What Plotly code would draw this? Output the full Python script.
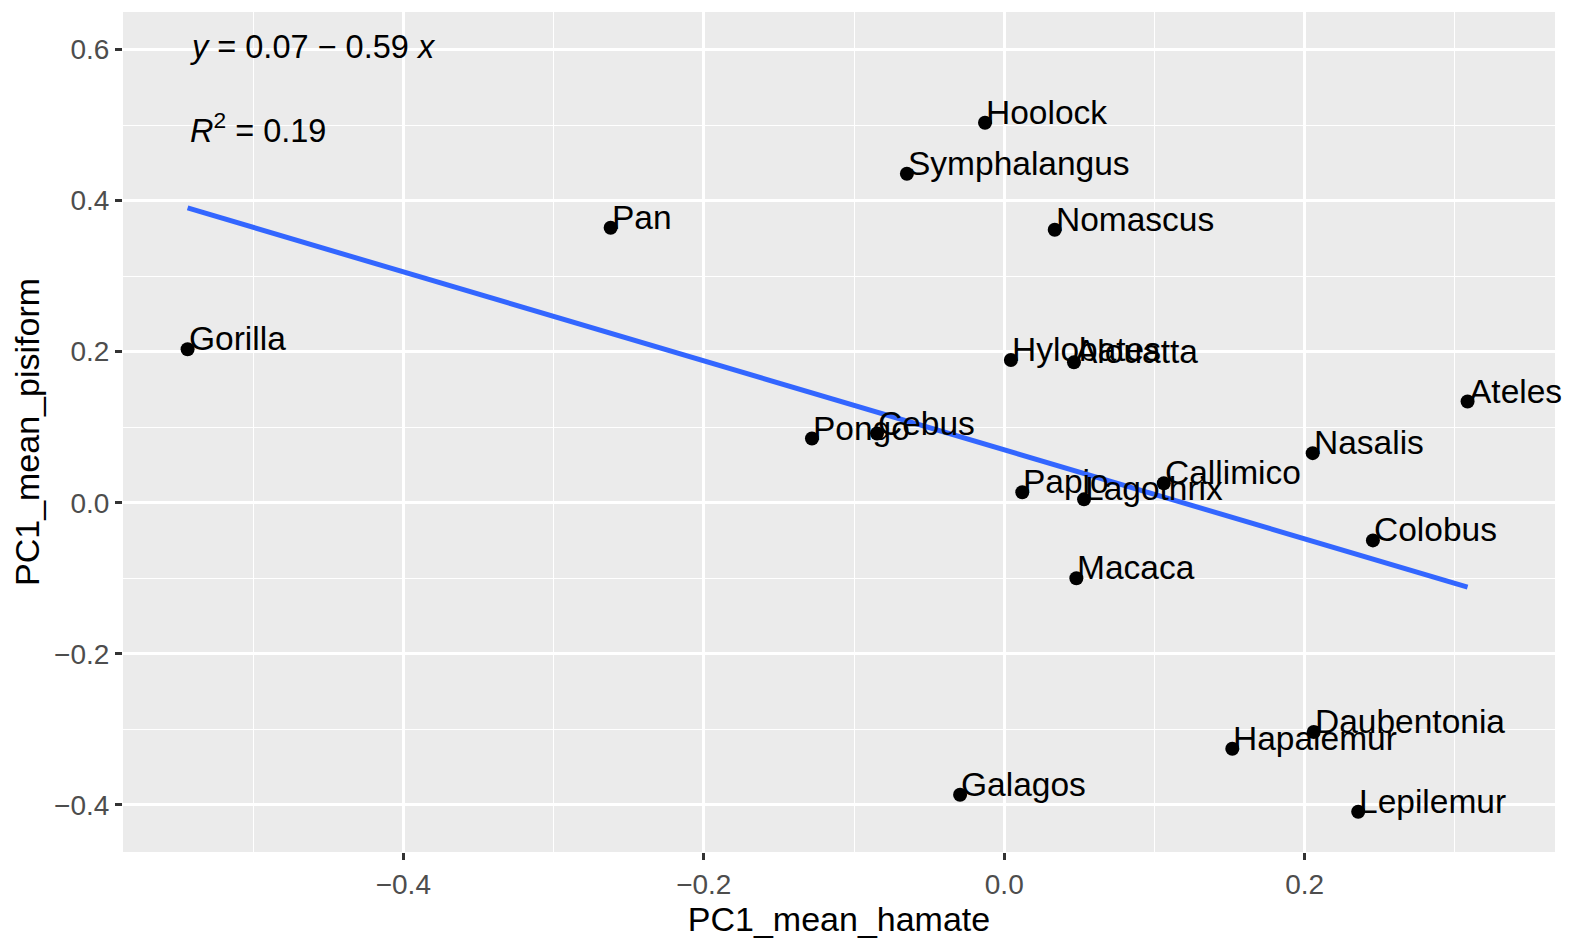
import numpy as np
import plotly.graph_objects as go

# ---- data ----
genus = ["Gorilla", "Pan", "Hoolock", "Symphalangus", "Nomascus", "Hylobates",
         "Alouatta", "Ateles", "Nasalis", "Pongo", "Cebus", "Papio", "Lagothrix",
         "Callimico", "Colobus", "Macaca", "Daubentonia", "Hapalemur", "Galagos",
         "Lepilemur"]
pc1_hamate = [-0.5436, -0.262, -0.0128, -0.0648, 0.0336, 0.0044,
              0.0464, 0.3084, 0.2053, -0.128, -0.0847, 0.012, 0.0531,
              0.1062, 0.2454, 0.048, 0.206, 0.1518, -0.0294,
              0.2356]
pc1_pisiform = [0.2031, 0.364, 0.503, 0.4356, 0.3613, 0.1889,
                0.1858, 0.1339, 0.0656, 0.0849, 0.0916, 0.0138, 0.0044,
                0.0258, -0.0499, -0.1, -0.3036, -0.3258, -0.3867,
                -0.4093]

x_ticks = [-0.4, -0.2, 0.0, 0.2]
x_ticktext = ["\u22120.4", "\u22120.2", "0.0", "0.2"]
x_minor = [-0.5, -0.3, -0.1, 0.1, 0.3]
y_ticks = [-0.4, -0.2, 0.0, 0.2, 0.4, 0.6]
y_ticktext = ["\u22120.4", "\u22120.2", "0.0", "0.2", "0.4", "0.6"]
y_minor = [-0.3, -0.1, 0.1, 0.3, 0.5]

eq_text = "<i>y</i> = 0.07 \u2212 0.59 <i>x</i>"
r2_text = "<i>R</i><sup>2</sup> = 0.19"

# ---- linear fit ----
xs = np.array(pc1_hamate)
ys = np.array(pc1_pisiform)
slope, intercept = np.polyfit(xs, ys, 1)
line_x = np.array([xs.min(), xs.max()])
line_y = intercept + slope * line_x

FONT = "Liberation Sans, Arial, Helvetica, sans-serif"
LABEL_SIZE = 33.5

fig = go.Figure()
fig.add_trace(go.Scatter(x=line_x, y=line_y, mode="lines",
                         line=dict(color="#3366FF", width=5),
                         hoverinfo="skip", showlegend=False))
fig.add_trace(go.Scatter(x=pc1_hamate, y=pc1_pisiform, mode="markers",
                         marker=dict(color="black", size=14),
                         text=genus, showlegend=False))

annotations = []
for name, xv, yv in zip(genus, pc1_hamate, pc1_pisiform):
    annotations.append(dict(x=xv, y=yv, xref="x", yref="y", text=name,
                            showarrow=False, xanchor="left", yanchor="bottom",
                            xshift=-1, yshift=-10,
                            font=dict(family=FONT, size=LABEL_SIZE, color="black")))
annotations.append(dict(x=0.0455, y=0.9437, xref="paper", yref="paper",
                        text=eq_text, showarrow=False, xanchor="left",
                        yanchor="bottom", yshift=-8,
                        font=dict(family=FONT, size=32.5, color="black")))
annotations.append(dict(x=0.0455, y=0.8444, xref="paper", yref="paper",
                        text=r2_text, showarrow=False, xanchor="left",
                        yanchor="bottom", yshift=-8,
                        font=dict(family=FONT, size=32.5, color="black")))

# page body has an 8px margin: the figure starts at (8, 8) in the window
OFF = 8
W, H = 1574 - OFF, 946 - OFF
ml, mr, mt, mb = 123 - OFF, 19, 12 - OFF, 94
pw, ph = W - ml - mr, H - mt - mb

shapes = [
    dict(type="rect", xref="paper", yref="paper",
         x0=(1567.0 - 123) / pw, x1=(1568.5 - 123) / pw,
         y0=-mb / ph - 0.01, y1=1 + mt / ph + 0.01,
         line=dict(width=0), fillcolor="#d9d9d9", layer="above"),
    dict(type="rect", xref="paper", yref="paper",
         x0=(1568.5 - 123) / pw, x1=(1580 - 123) / pw,
         y0=-mb / ph - 0.01, y1=1 + mt / ph + 0.01,
         line=dict(width=0), fillcolor="#2b2b2b", layer="above"),
]

fig.update_layout(
    width=W, height=H,
    margin=dict(l=ml, r=mr, t=mt, b=mb, pad=0),
    paper_bgcolor="white", plot_bgcolor="#EBEBEB",
    font=dict(family=FONT),
    annotations=annotations, shapes=shapes,
    showlegend=False,
)
fig.update_xaxes(
    range=[-0.5866, 0.3666], tickvals=x_ticks, ticktext=x_ticktext,
    showgrid=True, gridcolor="white", gridwidth=2.6, zeroline=False,
    ticks="outside", ticklen=7, tickwidth=2.5, tickcolor="#333333",
    tickfont=dict(family=FONT, size=28, color="#4D4D4D"),
    minor=dict(tickvals=x_minor, showgrid=True, gridcolor="white", gridwidth=1.3, ticks=""),
    title=dict(text="PC1_mean_hamate", font=dict(family=FONT, size=34, color="black"), standoff=2),
    showline=False,
)
fig.update_yaxes(
    range=[-0.4625, 0.6497], tickvals=y_ticks, ticktext=y_ticktext,
    showgrid=True, gridcolor="white", gridwidth=2.6, zeroline=False,
    ticks="outside", ticklen=7, tickwidth=2.5, tickcolor="#333333",
    tickfont=dict(family=FONT, size=28, color="#4D4D4D"),
    minor=dict(tickvals=y_minor, showgrid=True, gridcolor="white", gridwidth=1.3, ticks=""),
    title=dict(text="PC1_mean_pisiform", font=dict(family=FONT, size=34, color="black"), standoff=10),
    showline=False,
)

fig.write_html("out.html")
